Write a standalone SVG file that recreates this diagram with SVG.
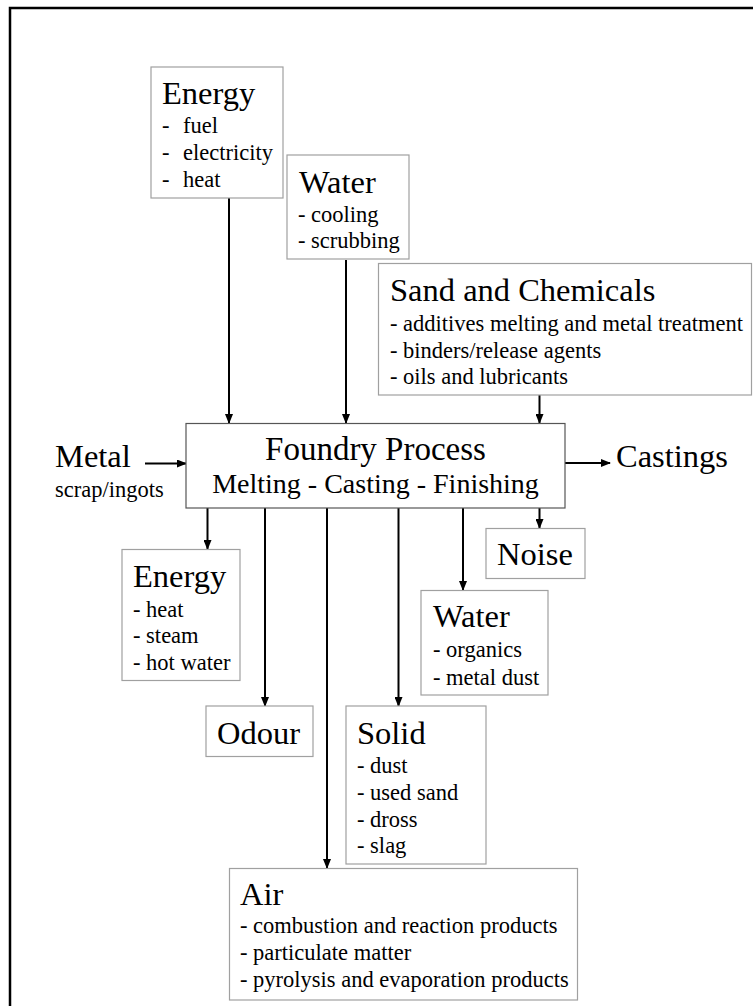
<svg xmlns="http://www.w3.org/2000/svg" width="753" height="1006" viewBox="0 0 753 1006">
<defs>
<marker id="ah" markerWidth="10" markerHeight="8" refX="9" refY="4" orient="auto" markerUnits="userSpaceOnUse">
<path d="M0,0 L10,4 L0,8 Z" fill="#000"/>
</marker>
<style>
.box{fill:#fff;stroke:#a0a0a0;stroke-width:1.2}
.main{fill:#fff;stroke:#555;stroke-width:1.2}
.t{font-size:32.5px}
.i{font-size:22.5px}
.ca{stroke:#000;stroke-width:2;fill:none;marker-end:url(#ah)}
</style>
</defs>
<rect x="0" y="0" width="753" height="1006" fill="#fff"/>
<rect x="10" y="8" width="800" height="1100" fill="none" stroke="#000" stroke-width="2.5"/>

<g id="connectors">
<line class="ca" x1="229" y1="198" x2="229" y2="423"/>
<line class="ca" x1="346" y1="260" x2="346" y2="423"/>
<line class="ca" x1="539.5" y1="395" x2="539.5" y2="423"/>
<line class="ca" x1="145" y1="463.5" x2="186" y2="463.5"/>
<line class="ca" x1="565" y1="463" x2="610" y2="463"/>
<line class="ca" x1="207.5" y1="508" x2="207.5" y2="549"/>
<line class="ca" x1="265" y1="508" x2="265" y2="706"/>
<line class="ca" x1="327" y1="508" x2="327" y2="868"/>
<line class="ca" x1="398.5" y1="508" x2="398.5" y2="706"/>
<line class="ca" x1="463" y1="508" x2="463" y2="590"/>
<line class="ca" x1="539.5" y1="508" x2="539.5" y2="528"/>
</g>

<g font-family="Liberation Serif, Times New Roman, serif" fill="#000">
<g id="energy-in">
<rect class="box" x="151" y="67" width="132" height="131"/>
<text class="t" x="162" y="104">Energy</text>
<text class="i" x="162" y="133">-</text><text class="i" x="183" y="133">fuel</text>
<text class="i" x="162" y="160">-</text><text class="i" x="183" y="160">electricity</text>
<text class="i" x="162" y="187">-</text><text class="i" x="183" y="187">heat</text>
</g>

<g id="water-in">
<rect class="box" x="287" y="155" width="122" height="104"/>
<text class="t" x="299" y="193">Water</text>
<text class="i" x="298" y="221.5">- cooling</text>
<text class="i" x="298" y="248">- scrubbing</text>
</g>

<g id="sand-chemicals">
<rect class="box" x="378.5" y="263.5" width="373" height="131.5"/>
<text class="t" x="390" y="300.5">Sand and Chemicals</text>
<text class="i" x="390" y="331">- additives melting and metal treatment</text>
<text class="i" x="390" y="357.5">- binders/release agents</text>
<text class="i" x="390" y="383.5">- oils and lubricants</text>
</g>

<g id="foundry">
<rect class="main" x="186" y="423.5" width="379" height="84.5"/>
<text x="375.5" y="460" font-size="33" text-anchor="middle">Foundry Process</text>
<text x="375.5" y="493" font-size="28" text-anchor="middle">Melting - Casting - Finishing</text>
</g>

<g id="metal">
<text class="t" x="55" y="467">Metal</text>
<text class="i" x="55" y="497">scrap/ingots</text>
</g>

<g id="castings">
<text class="t" x="616" y="467">Castings</text>
</g>

<g id="energy-out">
<rect class="box" x="122" y="549.5" width="118" height="131"/>
<text class="t" x="133" y="586.5">Energy</text>
<text class="i" x="133" y="616.5">- heat</text>
<text class="i" x="133" y="643">- steam</text>
<text class="i" x="133" y="670">- hot water</text>
</g>

<g id="noise">
<rect class="box" x="486" y="528.5" width="99" height="50"/>
<text class="t" x="497" y="565">Noise</text>
</g>

<g id="water-out">
<rect class="box" x="421" y="590.5" width="127" height="104.5"/>
<text class="t" x="433" y="626.5">Water</text>
<text class="i" x="433" y="656.5">- organics</text>
<text class="i" x="433" y="685">- metal dust</text>
</g>

<g id="odour">
<rect class="box" x="206" y="706" width="107" height="50.5"/>
<text class="t" x="217" y="744">Odour</text>
</g>

<g id="solid">
<rect class="box" x="346" y="706" width="140" height="158"/>
<text class="t" x="357" y="744">Solid</text>
<text class="i" x="357" y="772.5">- dust</text>
<text class="i" x="357" y="800">- used sand</text>
<text class="i" x="357" y="826.5">- dross</text>
<text class="i" x="357" y="853">- slag</text>
</g>

<g id="air">
<rect class="box" x="229.5" y="868.5" width="348" height="131.5"/>
<text class="t" x="240" y="905">Air</text>
<text class="i" x="240" y="933">- combustion and reaction products</text>
<text class="i" x="240" y="960">- particulate matter</text>
<text class="i" x="240" y="986.5">- pyrolysis and evaporation products</text>
</g>
</g>
</svg>
